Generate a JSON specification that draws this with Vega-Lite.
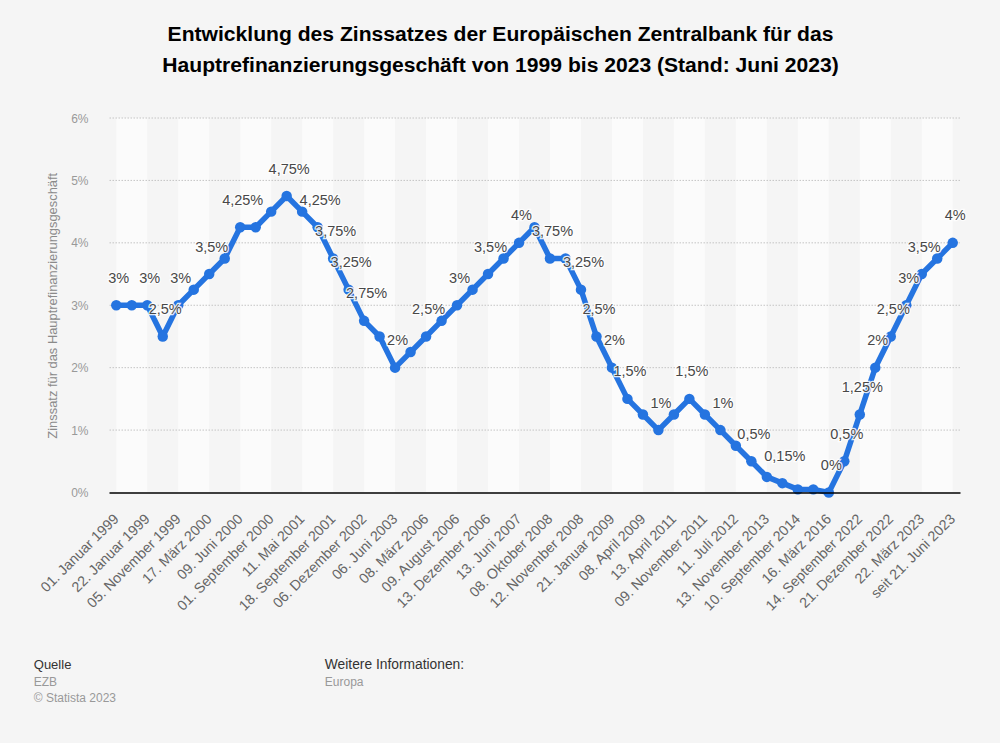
{
  "$schema": "https://vega.github.io/schema/vega-lite/v6.json",
  "width": 851,
  "height": 374.5,
  "autosize": "none",
  "padding": {"left": 109, "top": 118, "right": 40, "bottom": 250.5},
  "background": "#f5f5f5",
  "title": {
    "text": ["Entwicklung des Zinssatzes der Europäischen Zentralbank für das", "Hauptrefinanzierungsgeschäft von 1999 bis 2023 (Stand: Juni 2023)"],
    "font": "Liberation Sans",
    "fontSize": 21.1,
    "fontWeight": "bold",
    "color": "#000000",
    "lineHeight": 31,
    "anchor": "middle",
    "frame": "group",
    "dx": -34,
    "offset": 36
  },
  "config": {"view": {"stroke": null}, "font": "Liberation Sans"},
  "datasets": {
    "zins": [
      {"datum": "01. Januar 1999", "zins": 3, "label": "3%"},
      {"datum": "04. Januar 1999", "zins": 3},
      {"datum": "22. Januar 1999", "zins": 3, "label": "3%"},
      {"datum": "09. April 1999", "zins": 2.5, "label": "2,5%"},
      {"datum": "05. November 1999", "zins": 3, "label": "3%"},
      {"datum": "04. Februar 2000", "zins": 3.25},
      {"datum": "17. März 2000", "zins": 3.5, "label": "3,5%"},
      {"datum": "28. April 2000", "zins": 3.75},
      {"datum": "09. Juni 2000", "zins": 4.25, "label": "4,25%"},
      {"datum": "28. Juni 2000", "zins": 4.25},
      {"datum": "01. September 2000", "zins": 4.5},
      {"datum": "06. Oktober 2000", "zins": 4.75, "label": "4,75%"},
      {"datum": "11. Mai 2001", "zins": 4.5},
      {"datum": "31. August 2001", "zins": 4.25, "label": "4,25%"},
      {"datum": "18. September 2001", "zins": 3.75, "label": "3,75%"},
      {"datum": "09. November 2001", "zins": 3.25, "label": "3,25%"},
      {"datum": "06. Dezember 2002", "zins": 2.75, "label": "2,75%"},
      {"datum": "07. März 2003", "zins": 2.5},
      {"datum": "06. Juni 2003", "zins": 2, "label": "2%"},
      {"datum": "06. Dezember 2005", "zins": 2.25},
      {"datum": "08. März 2006", "zins": 2.5, "label": "2,5%"},
      {"datum": "15. Juni 2006", "zins": 2.75},
      {"datum": "09. August 2006", "zins": 3, "label": "3%"},
      {"datum": "11. Oktober 2006", "zins": 3.25},
      {"datum": "13. Dezember 2006", "zins": 3.5, "label": "3,5%"},
      {"datum": "14. März 2007", "zins": 3.75},
      {"datum": "13. Juni 2007", "zins": 4, "label": "4%"},
      {"datum": "09. Juli 2008", "zins": 4.25},
      {"datum": "08. Oktober 2008", "zins": 3.75, "label": "3,75%"},
      {"datum": "09. Oktober 2008", "zins": 3.75},
      {"datum": "12. November 2008", "zins": 3.25, "label": "3,25%"},
      {"datum": "10. Dezember 2008", "zins": 2.5, "label": "2,5%"},
      {"datum": "21. Januar 2009", "zins": 2, "label": "2%"},
      {"datum": "11. März 2009", "zins": 1.5, "label": "1,5%"},
      {"datum": "08. April 2009", "zins": 1.25},
      {"datum": "13. Mai 2009", "zins": 1, "label": "1%"},
      {"datum": "13. April 2011", "zins": 1.25},
      {"datum": "13. Juli 2011", "zins": 1.5, "label": "1,5%"},
      {"datum": "09. November 2011", "zins": 1.25},
      {"datum": "14. Dezember 2011", "zins": 1, "label": "1%"},
      {"datum": "11. Juli 2012", "zins": 0.75},
      {"datum": "08. Mai 2013", "zins": 0.5, "label": "0,5%"},
      {"datum": "13. November 2013", "zins": 0.25},
      {"datum": "11. Juni 2014", "zins": 0.15, "label": "0,15%"},
      {"datum": "10. September 2014", "zins": 0.05},
      {"datum": "16. Dezember 2015", "zins": 0.05},
      {"datum": "16. März 2016", "zins": 0, "label": "0%"},
      {"datum": "27. Juli 2022", "zins": 0.5, "label": "0,5%"},
      {"datum": "14. September 2022", "zins": 1.25, "label": "1,25%"},
      {"datum": "02. November 2022", "zins": 2, "label": "2%"},
      {"datum": "21. Dezember 2022", "zins": 2.5, "label": "2,5%"},
      {"datum": "08. Februar 2023", "zins": 3, "label": "3%"},
      {"datum": "22. März 2023", "zins": 3.5, "label": "3,5%"},
      {"datum": "10. Mai 2023", "zins": 3.75},
      {"datum": "seit 21. Juni 2023", "zins": 4, "label": "4%"}
    ],
    "streifen": [
      {"von": "01. Januar 1999", "bis": "22. Januar 1999"},
      {"von": "05. November 1999", "bis": "17. März 2000"},
      {"von": "09. Juni 2000", "bis": "01. September 2000"},
      {"von": "11. Mai 2001", "bis": "18. September 2001"},
      {"von": "06. Dezember 2002", "bis": "06. Juni 2003"},
      {"von": "08. März 2006", "bis": "09. August 2006"},
      {"von": "13. Dezember 2006", "bis": "13. Juni 2007"},
      {"von": "08. Oktober 2008", "bis": "12. November 2008"},
      {"von": "21. Januar 2009", "bis": "08. April 2009"},
      {"von": "13. April 2011", "bis": "09. November 2011"},
      {"von": "11. Juli 2012", "bis": "13. November 2013"},
      {"von": "10. September 2014", "bis": "16. März 2016"},
      {"von": "14. September 2022", "bis": "21. Dezember 2022"},
      {"von": "22. März 2023", "bis": "seit 21. Juni 2023"}
    ],
    "raster": [{"y": 1}, {"y": 2}, {"y": 3}, {"y": 4}, {"y": 5}, {"y": 6}],
    "quelle": [
      {"text": "EZB", "x": "01. Januar 1999", "y": -3.03},
      {"text": "© Statista 2023", "x": "01. Januar 1999", "y": -3.29}
    ]
  },
  "layer": [
    {
      "data": {"name": "streifen"},
      "mark": {"type": "rect", "color": "#fbfbfb"},
      "encoding": {
        "x": {
          "field": "von",
          "type": "ordinal",
          "title": null,
          "scale": {
            "type": "point",
            "padding": 0.47,
            "domain": ["01. Januar 1999", "04. Januar 1999", "22. Januar 1999", "09. April 1999", "05. November 1999", "04. Februar 2000", "17. März 2000", "28. April 2000", "09. Juni 2000", "28. Juni 2000", "01. September 2000", "06. Oktober 2000", "11. Mai 2001", "31. August 2001", "18. September 2001", "09. November 2001", "06. Dezember 2002", "07. März 2003", "06. Juni 2003", "06. Dezember 2005", "08. März 2006", "15. Juni 2006", "09. August 2006", "11. Oktober 2006", "13. Dezember 2006", "14. März 2007", "13. Juni 2007", "09. Juli 2008", "08. Oktober 2008", "09. Oktober 2008", "12. November 2008", "10. Dezember 2008", "21. Januar 2009", "11. März 2009", "08. April 2009", "13. Mai 2009", "13. April 2011", "13. Juli 2011", "09. November 2011", "14. Dezember 2011", "11. Juli 2012", "08. Mai 2013", "13. November 2013", "11. Juni 2014", "10. September 2014", "16. Dezember 2015", "16. März 2016", "27. Juli 2022", "14. September 2022", "02. November 2022", "21. Dezember 2022", "08. Februar 2023", "22. März 2023", "10. Mai 2023", "seit 21. Juni 2023"]
          },
          "axis": {
            "values": ["01. Januar 1999", "22. Januar 1999", "05. November 1999", "17. März 2000", "09. Juni 2000", "01. September 2000", "11. Mai 2001", "18. September 2001", "06. Dezember 2002", "06. Juni 2003", "08. März 2006", "09. August 2006", "13. Dezember 2006", "13. Juni 2007", "08. Oktober 2008", "12. November 2008", "21. Januar 2009", "08. April 2009", "13. April 2011", "09. November 2011", "11. Juli 2012", "13. November 2013", "10. September 2014", "16. März 2016", "14. September 2022", "21. Dezember 2022", "22. März 2023", "seit 21. Juni 2023"],
            "labelAngle": -45,
            "labelAlign": "right",
            "labelBaseline": "middle",
            "labelFontSize": 14.3,
            "labelColor": "#666666",
            "labelPadding": 24,
            "labelOverlap": false,
            "labelBound": false,
            "labelFlush": false,
            "ticks": false,
            "domainColor": "#000000",
            "domainWidth": 1.5
          }
        },
        "x2": {"field": "bis"},
        "y": {"datum": 0, "type": "quantitative"},
        "y2": {"datum": 6}
      }
    },
    {
      "data": {"name": "raster"},
      "mark": {"type": "rule", "color": "#c4c4c4", "strokeDash": [1.5, 1.5], "strokeWidth": 1},
      "encoding": {
        "y": {
          "field": "y",
          "type": "quantitative",
          "scale": {"domain": [0, 6], "nice": false},
          "title": "Zinssatz für das Hauptrefinanzierungsgeschäft",
          "axis": {
            "values": [0, 1, 2, 3, 4, 5, 6],
            "labelExpr": "datum.value + '%'",
            "grid": false,
            "domain": false,
            "ticks": false,
            "labelFontSize": 12,
            "labelColor": "#999999",
            "labelPadding": 21,
            "titleFontSize": 12.9,
            "titleFontWeight": "normal",
            "titleColor": "#8a8a8a",
            "titlePadding": 11
          }
        }
      }
    },
    {
      "data": {"name": "zins"},
      "layer": [
        {"mark": {"type": "line", "color": "#2574e0", "strokeWidth": 5.5, "strokeJoin": "round"}},
        {"mark": {"type": "point", "filled": true, "opacity": 1, "color": "#2574e0", "size": 110}}
      ],
      "encoding": {
        "x": {"field": "datum", "type": "ordinal"},
        "y": {"field": "zins", "type": "quantitative"}
      }
    },
    {
      "data": {"name": "zins"},
      "transform": [{"filter": "isValid(datum.label)"}],
      "layer": [
        {"mark": {"type": "text", "fontSize": 14.5, "dx": 2.5, "dy": -26.5, "stroke": "#ffffff", "strokeWidth": 2.5, "strokeOpacity": 0.85, "fill": "#ffffff"}},
        {"mark": {"type": "text", "fontSize": 14.5, "dx": 2.5, "dy": -26.5, "color": "#484848"}}
      ],
      "encoding": {
        "x": {"field": "datum", "type": "ordinal"},
        "y": {"field": "zins", "type": "quantitative"},
        "text": {"field": "label"}
      }
    },
    {
      "data": {"values": [{"text": "Quelle", "x": "01. Januar 1999", "y": -2.77}]},
      "mark": {"type": "text", "align": "left", "fontSize": 13, "color": "#333333", "dx": -82.5},
      "encoding": {
        "x": {"field": "x", "type": "ordinal"},
        "y": {"field": "y", "type": "quantitative"},
        "text": {"field": "text"}
      }
    },
    {
      "data": {"name": "quelle"},
      "mark": {"type": "text", "align": "left", "fontSize": 12, "color": "#999999", "dx": -82.5},
      "encoding": {
        "x": {"field": "x", "type": "ordinal"},
        "y": {"field": "y", "type": "quantitative"},
        "text": {"field": "text"}
      }
    },
    {
      "data": {"values": [{"text": "Weitere Informationen:", "x": "06. Dezember 2005", "y": -2.77}]},
      "mark": {"type": "text", "align": "left", "fontSize": 13.8, "color": "#333333", "dx": -85.8},
      "encoding": {
        "x": {"field": "x", "type": "ordinal"},
        "y": {"field": "y", "type": "quantitative"},
        "text": {"field": "text"}
      }
    },
    {
      "data": {"values": [{"text": "Europa", "x": "06. Dezember 2005", "y": -3.03}]},
      "mark": {"type": "text", "align": "left", "fontSize": 12, "color": "#999999", "dx": -85.8},
      "encoding": {
        "x": {"field": "x", "type": "ordinal"},
        "y": {"field": "y", "type": "quantitative"},
        "text": {"field": "text"}
      }
    }
  ]
}
